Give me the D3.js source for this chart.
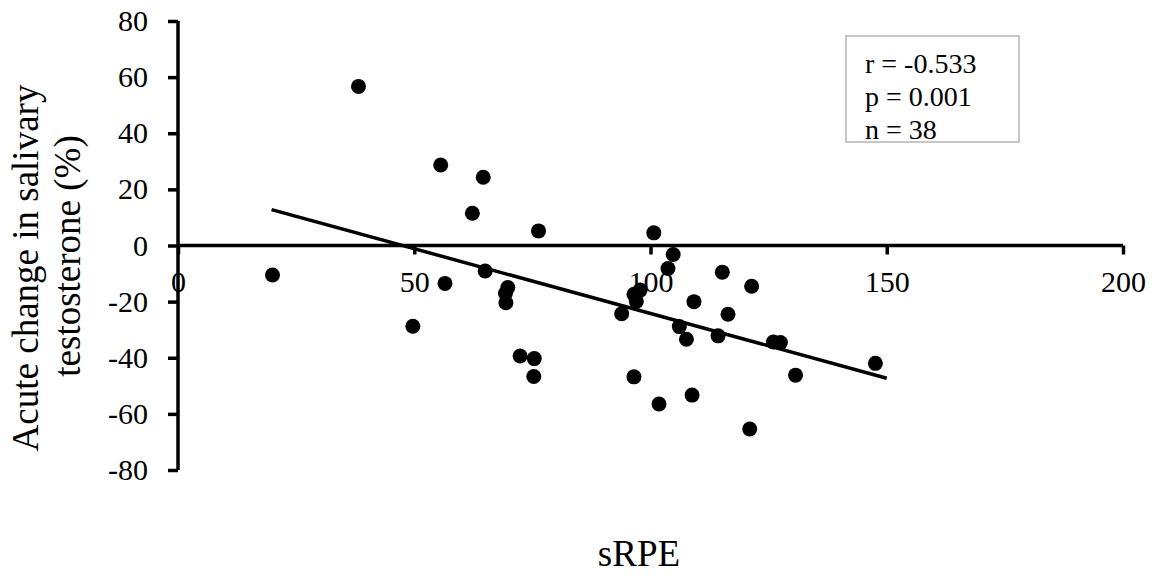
<!DOCTYPE html>
<html>
<head>
<meta charset="utf-8">
<script src="https://cdn.jsdelivr.net/npm/d3@7"></script>
<style>
  html, body { margin: 0; padding: 0; background: #fff; }
  svg { display: block; font-family: "Liberation Serif", "Times New Roman", serif; }
</style>
</head>
<body>
<svg id="chart" width="1160" height="576"></svg>
<script>
// sRPE (x) vs acute change in salivary testosterone, % (y)
const srpe = [38.2, 55.6, 64.6, 62.3, 76.3, 65.0, 20.0, 56.5, 69.8, 69.3, 69.4, 49.7, 72.4, 75.4, 75.3,
              100.7, 104.8, 103.7, 115.2, 121.4, 96.5, 97.8, 97.0, 109.2, 93.9, 116.4, 106.1, 114.3, 107.6,
              126.0, 127.5, 147.6, 96.5, 130.7, 108.8, 101.8, 121.0];
const testoChange = [56.7, 28.7, 24.3, 11.5, 5.2, -9.1, -10.5, -13.5, -15.0, -17.1, -20.4, -28.8, -39.4, -40.3, -46.7,
                     4.5, -3.2, -8.2, -9.5, -14.5, -17.4, -15.9, -19.9, -20.0, -24.3, -24.5, -28.9, -32.2, -33.4,
                     -34.4, -34.6, -42.0, -46.8, -46.2, -53.3, -56.5, -65.4];

// linear fit drawn across the observed sRPE range
const fitX = [19.8, 150];
const fitY = [12.8, -47.3];

const xTicks = [0, 50, 100, 150, 200];
const yTicks = [-80, -60, -40, -20, 0, 20, 40, 60, 80];
const statLines = ["r = -0.533", "p = 0.001", "n = 38"];

// plain hyphen for negative numbers
const fmt = d => String(d);

const svg = d3.select("#chart");
const x = d3.scaleLinear().domain([0, 200]).range([178, 1123]);
const y = d3.scaleLinear().domain([-80, 80]).range([470, 21]);

// y axis (left spine with outward ticks)
const yAxis = svg.append("g").attr("transform", `translate(${x(0)},0)`)
  .call(d3.axisLeft(y).tickValues(yTicks).tickSize(10).tickPadding(20).tickFormat(fmt));
yAxis.select(".domain").attr("stroke", "#000").attr("stroke-width", 3.5).attr("d", `M0,${y(-80)}V${y(80)}`);
yAxis.selectAll(".tick line").attr("stroke", "#000").attr("stroke-width", 3.5);
yAxis.selectAll(".tick text").attr("font-size", 30).attr("font-family", "Liberation Serif").attr("fill", "#000");

// x axis crossing at y = 0, ticks pointing down
const xAxis = svg.append("g").attr("transform", `translate(0,${y(0)})`)
  .call(d3.axisBottom(x).tickValues(xTicks).tickSize(9).tickPadding(16).tickFormat(fmt));
xAxis.select(".domain").attr("stroke", "#000").attr("stroke-width", 3.5).attr("d", `M${x(0)},0H${x(200)}`);
xAxis.selectAll(".tick line").attr("stroke", "#000").attr("stroke-width", 3.5);
xAxis.selectAll(".tick text").attr("font-size", 30).attr("font-family", "Liberation Serif").attr("fill", "#000");

// regression line
svg.append("line")
  .attr("x1", x(fitX[0])).attr("y1", y(fitY[0]))
  .attr("x2", x(fitX[1])).attr("y2", y(fitY[1]))
  .attr("stroke", "#000").attr("stroke-width", 3.5);

// data points
svg.append("g").selectAll("circle")
  .data(srpe.map((d, i) => [d, testoChange[i]]))
  .join("circle")
  .attr("cx", d => x(d[0])).attr("cy", d => y(d[1]))
  .attr("r", 7.5).attr("fill", "#000");

// statistics box
svg.append("rect").attr("x", 846).attr("y", 36).attr("width", 173).attr("height", 106)
  .attr("fill", "#fff").attr("stroke", "#b4b4b4").attr("stroke-width", 1.5);
svg.append("clipPath").attr("id", "statclip")
  .append("rect").attr("x", 846).attr("y", 36).attr("width", 173).attr("height", 105);
svg.append("g").attr("clip-path", "url(#statclip)").selectAll("text")
  .data(statLines).join("text")
  .attr("x", 865).attr("y", (d, i) => 73 + i * 33)
  .attr("font-size", 28).attr("fill", "#000").text(d => d);

// axis titles
svg.append("text").attr("x", 639).attr("y", 566).attr("text-anchor", "middle")
  .attr("font-size", 37).attr("fill", "#000").text("sRPE");
svg.append("text").attr("transform", "translate(38,268) rotate(-90)").attr("text-anchor", "middle")
  .attr("font-size", 37).attr("fill", "#000").text("Acute change in salivary");
svg.append("text").attr("transform", "translate(80,256) rotate(-90)").attr("text-anchor", "middle")
  .attr("font-size", 37).attr("fill", "#000").text("testosterone (%)");
</script>
</body>
</html>
